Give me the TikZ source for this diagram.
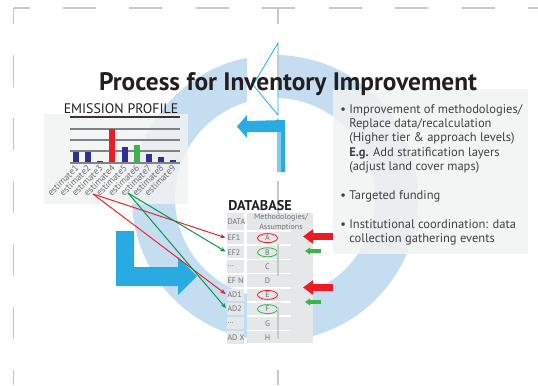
\documentclass[tikz,border=0pt]{standalone}
\usepackage{fontspec}
\setmainfont{PT Sans}
\usetikzlibrary{arrows.meta, positioning, calc, shapes.geometric}
\definecolor{ringblue}{HTML}{C5DDF1}
\definecolor{arrowblue}{HTML}{29ABE2}
\definecolor{panelgray}{HTML}{F1F2F2}
\definecolor{cellgray}{HTML}{E6E7E8}
\definecolor{textgray}{HTML}{6D6E71}
\definecolor{darktext}{HTML}{414042}
\definecolor{titleblack}{HTML}{231F20}
\definecolor{barnavy}{HTML}{2E3192}
\definecolor{barred}{HTML}{ED1C24}
\definecolor{bargreen}{HTML}{39B54A}
\definecolor{linegreen}{HTML}{009444}
\definecolor{gridgray}{HTML}{808285}
\definecolor{cropgray}{HTML}{C7C8CA}

\begin{document}
\begin{tikzpicture}[x=0.75pt, y=-0.75pt]
  \tikzset{panel/.style={fill=panelgray, fill opacity=0.85}};
  \tikzset{crop/.style={cropgray, line width=1.1pt}};
  \tikzset{hdash/.style={crop, dash pattern=on 24.75pt off 25.1pt, dash phase=12.75pt}};
  \tikzset{vdash/.style={crop, dash pattern=on 24pt off 23.25pt, dash phase=12pt}};
  \tikzset{gridline/.style={gridgray, line width=1.3pt}};
  \tikzset{estlbl/.style={rotate=45, anchor=east, inner sep=0.5pt, text=textgray, font=\fontsize{7}{8}\selectfont}};
  \tikzset{cellA/.style={fill=cellgray, inner sep=0pt, minimum width=12.75pt, minimum height=9.15pt, text=textgray, font=\fontsize{6}{7}\selectfont}};
  \tikzset{ltr/.style={ellipse, line width=0.6pt, inner sep=0pt, minimum width=15pt, minimum height=6.75pt, text=textgray, font=\fontsize{6}{7}\selectfont}};
  \tikzset{relR/.style={barred, line width=0.7pt, -{Stealth[length=4pt, width=3.2pt]}, shorten >=1pt}};
  \tikzset{relG/.style={linegreen, line width=0.7pt, -{Stealth[length=4pt, width=3.2pt]}, shorten >=1pt}};
  \tikzset{fixR/.style={barred, line width=5.25pt, -{Triangle[length=7.5pt, width=10.5pt]}}};
  \tikzset{fixG/.style={bargreen, line width=2.5pt, -{Triangle[length=3.75pt, width=5pt]}}};
  \tikzset{bullet/.style={anchor=north west, inner sep=0pt, align=left, text=darktext, font=\fontsize{9.4}{10.725}\selectfont}};
  \def\rowh{14.2};

  \useasboundingbox (0,0) rectangle (538,385);

  % ring
  \begin{scope}
    \clip (0,0) rectangle (247,385) (277,0) rectangle (538,385) (0,120) rectangle (538,385);
    \fill[ringblue, even odd rule] (275,198) circle[radius=143] (275,198) circle[radius=100];
  \end{scope}

  % panels
  \fill[panel] (44,114) rectangle (188,204);
  \fill[panel] (333,89) rectangle (528,254);

  % open head on the ring
  \draw[arrowblue, line width=0.6pt, fill=white] (278,43) -- (253,85) -- (278,115) -- cycle;

  % chart
  \draw[titleblack!90, line width=2.2pt] (70,117) -- (180,117);
  \foreach \y in {129,140,151}
    \draw[gridline] (70,\y) -- (180,\y);
  \foreach \h/\c [count=\i] in {11/barnavy,11/barnavy,2/barnavy,34/barred,16/barnavy,18/bargreen,9/barnavy,6/barnavy,3/barnavy}
    \fill[\c] ({73+12.15*(\i-1)},163) rectangle ++(6,-\h);
  \draw[gridline, line width=1.6pt] (70,163) -- (180,163);
  \foreach \i in {1,...,9}
    \node[estlbl] (est\i) at ({77.5+12.15*(\i-1)},166) {estimate\i};

  % table
  \node[cellA, minimum height=12.75pt] (hdr) at (235.5,221.5) {\makebox[12pt][l]{DATA}};
  \foreach \n/\lab [count=\i] in {ef1/EF1, ef2/EF2, efdots/\ldots, efn/EF N, ad1/AD1, ad2/AD2, addots/\ldots, adx/AD X}
    \node[cellA] (\n) at (235.5,{231+(\i-0.5)*\rowh}) {\makebox[12pt][l]{\lab}};
  \fill[cellgray] (247,213) rectangle (313,343);
  \begin{scope}
    \clip (247,213) rectangle (313,231);
    \node[inner sep=0pt, align=center, text=textgray, font=\fontsize{6}{6.9}\selectfont] (meth) at (281,222.5) {Methodologies/\\Assumptions};
  \end{scope}
  \foreach \i in {0,...,7}
    \draw[white, line width=1.1pt] (247,{231+\i*\rowh}) -- (291,{231+\i*\rowh});
  \foreach \n/\m/\c [count=\i] in {ltrA/A/barred, ltrB/B/bargreen, ltrC/C/none, ltrD/D/none, ltrE/E/barred, ltrF/F/bargreen, ltrG/G/none, ltrH/H/none}
    \node[ltr, draw=\c] (\n) at (267.5,{231+(\i-0.5)*\rowh}) {\m};

  % crop marks
  \draw[hdash] (13.5,8) -- (538,8);
  \draw[vdash] (13.5,8) -- (13.5,385);
  \draw[vdash] (278,8) -- (278,385);

  % blue arrows
  \fill[arrowblue] (285,120) -- (285,172) -- (277,172) -- (277,132) -- (247,132) -- (247,138) -- (237,126.5) -- (247,115) -- (247,121) -- cycle;
  \fill[arrowblue!60] (277,132) rectangle (281,172);
  \fill[arrowblue] (116,231) -- (134,231) -- (134,267) -- (178,267) -- (178,257) -- (197,276) -- (178,295) -- (178,286) -- (116,286) -- cycle;

  % 4 -> EF1, AD1 and 6 -> EF2, AD2
  \coordinate (src4) at (93,194);
  \coordinate (src6) at (128,193);
  \draw[relR] (src4) -- (ef1.west);
  \draw[relR] (src4) -- (ad1.west);
  \draw[relG] (src6) -- (ef2.west);
  \draw[relG] (src6) -- (ad2.west);

  % fixes
  \coordinate (fixA) at (333,236.5);
  \coordinate (fixB) at (321,251);
  \coordinate (fixE) at (333,287.5);
  \coordinate (fixF) at (321,302);
  \draw[fixR] (fixA) -- ++(-30,0);
  \draw[fixG] (fixB) -- ++(-16,0);
  \draw[fixR] (fixE) -- ++(-30,0);
  \draw[fixG] (fixF) -- ++(-16,0);

  % texts
  \node[anchor=base, inner sep=0pt, text=titleblack, font=\fontsize{19}{21}\selectfont\bfseries] (title) at (288,90) {Process for Inventory Improvement};
  \node[anchor=base, inner sep=0pt, text=titleblack, font=\fontsize{10.4}{12}\selectfont] (profile) at (121,113) {EMISSION PROFILE};
  \node[anchor=base west, inner sep=0pt, text=titleblack, font=\fontsize{10.6}{12}\selectfont\bfseries] (database) at (228,210) {DATABASE};
  \node[bullet] (imp) at (349,104) {\llap{\textbullet\hspace{2.5pt}}Improvement of methodologies/\\Replace data/recalculation\\(Higher tier \& approach levels)\\\textbf{E.g.} Add stratification layers\\(adjust land cover maps)};
  \node[bullet] (fund) at (349,190) {\llap{\textbullet\hspace{2.5pt}}Targeted funding};
  \node[bullet] (coord) at (349,219) {\llap{\textbullet\hspace{2.5pt}}Institutional coordination: data\\collection gathering events};
\end{tikzpicture}
\end{document}
